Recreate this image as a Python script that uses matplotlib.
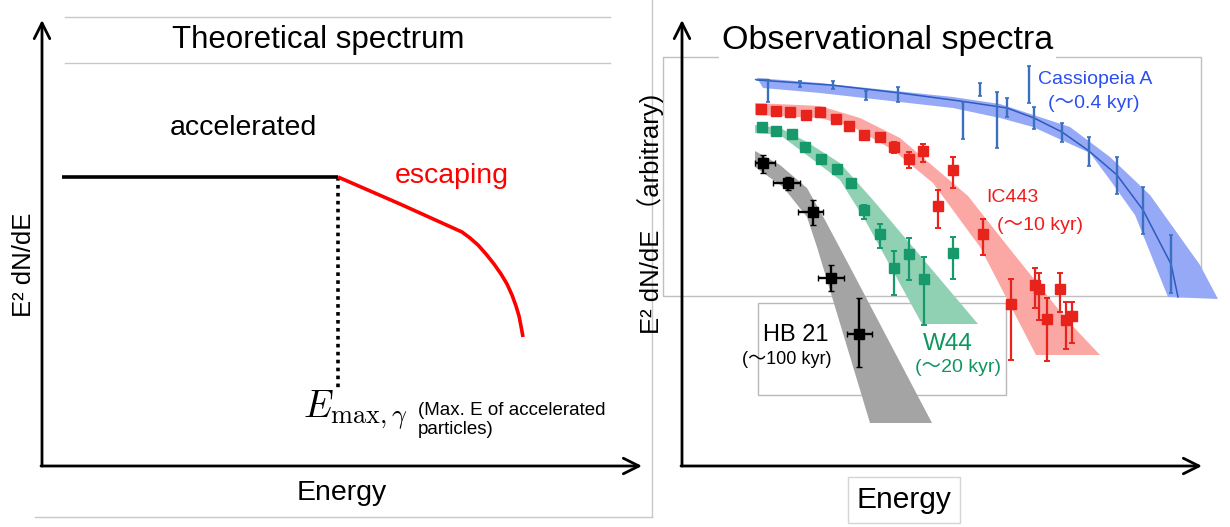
import numpy as np
import matplotlib
matplotlib.use('Agg')
import matplotlib.pyplot as plt
from matplotlib.patches import Polygon, Rectangle

plt.rcParams['font.family'] = ['Liberation Sans', 'Noto Sans CJK JP', 'DejaVu Sans']
plt.rcParams['mathtext.fontset'] = 'cm'

nan = np.nan

# ---- left panel: schematic spectrum (canvas units, y grows downward)
plateau_x = [62, 338]
plateau_y = [177, 177]
escape_x = [338, 400, 462, 470, 478, 486, 494, 501, 507, 512, 516, 519, 521, 523]
escape_y = [177, 204, 232, 238, 245, 254, 264, 274, 284, 295, 306, 316, 326, 337]
emax_x = 338
emax_y = [177, 390]

# ---- right panel: observed spectra
# Cassiopeia A
cas_x = [768, 800, 833, 866, 898, 963, 980, 997, 1007, 1029, 1034, 1062, 1089, 1117, 1143, 1171]
cas_lo = [80, 81, 81, 91, 87, 102, 83, 92, 98, 66, 107, 123, 137, 157, 187, 235]
cas_hi = [102, 87, 89, 100, 102, 139, 96, 148, 117, 103, 129, 142, 166, 194, 234, 293]
cas_line_x = [757, 830, 900, 960, 1007, 1034, 1062, 1089, 1117, 1143, 1171, 1178]
cas_line_y = [80, 85, 93, 101, 108, 118, 132, 151, 175, 210, 264, 297]
cas_up_x = [757, 820, 953, 1000, 1070, 1110, 1150, 1200, 1218]
cas_up_y = [78, 83, 97, 104, 127, 157, 195, 265, 299]
cas_dn_x = [763, 820, 953, 1000, 1033, 1090, 1110, 1135, 1168]
cas_dn_y = [88, 93, 108, 118, 127, 153, 180, 215, 297]

# IC443
ic_x = [761, 776, 790, 806, 820, 836, 849, 864, 880, 894, 909, 923, 938, 953, 983,
        1011, 1035, 1039, 1047, 1060, 1066, 1072]
ic_y = [109, 111, 112, 115, 112, 119, 126, 135, 137, 147, 159, 151, 206, 170, 234,
        304, 285, 289, 319, 289, 320, 316]
ic_lo = [nan] * 9 + [142, 152, 144, 190, 157, 219, 279, 268, 273, 298, 273, 302, 302]
ic_hi = [nan] * 9 + [153, 168, 162, 228, 188, 255, 360, 308, 320, 361, 312, 349, 343]
ic_up_x = [755, 820, 860, 900, 968, 1013, 1067, 1100]
ic_up_y = [103, 106, 118, 138, 196, 253, 320, 355]
ic_dn_x = [755, 820, 853, 893, 933, 980, 1036]
ic_dn_y = [115, 118, 127, 150, 183, 247, 355]

# W44
w44_x = [762, 776, 792, 805, 821, 837, 851, 864, 880, 894, 909, 924, 953]
w44_y = [127, 131, 134, 147, 159, 169, 183, 210, 234, 268, 254, 279, 253]
w44_lo = [nan] * 7 + [205, 224, 251, 238, 257, 237]
w44_hi = [nan] * 7 + [219, 248, 295, 280, 325, 279]
w44_up_x = [755, 780, 807, 840, 873, 890, 978]
w44_up_y = [125, 128, 142, 163, 200, 220, 324]
w44_dn_x = [755, 780, 800, 840, 865, 922]
w44_dn_y = [133, 135, 150, 180, 220, 324]

# HB 21
hb_x = [763, 788, 813, 831, 859]
hb_y = [163, 183, 212, 278, 334]
hb_xlo = [755, 773, 798, 818, 847]
hb_xhi = [775, 800, 823, 844, 872]
hb_ylo = [155, 177, 200, 265, 298]
hb_yhi = [173, 190, 225, 291, 367]
hb_up_x = [755, 780, 807, 825, 850, 932]
hb_up_y = [151, 165, 188, 220, 267, 423]
hb_dn_x = [755, 783, 807, 817, 870]
hb_dn_y = [167, 187, 217, 247, 423]


def band(ax, ux, uy, dx, dy, color):
    pts = list(zip(ux, uy)) + list(zip(dx[::-1], dy[::-1]))
    ax.add_patch(Polygon(pts, closed=True, facecolor=color, edgecolor='none', zorder=2))


def arrow(ax, start, end):
    ax.annotate('', xy=end, xytext=start,
                arrowprops=dict(arrowstyle='->', lw=2.0, color='black',
                                mutation_scale=28, shrinkA=0, shrinkB=0))


fig = plt.figure(figsize=(12.3, 5.27), dpi=100)
ax = fig.add_axes([0, 0, 1, 1])
ax.set_xlim(0, 1230)
ax.set_ylim(527, 0)
ax.axis('off')

frame = '#c8c8c8'

# ---------------- left panel
ax.plot([65, 610], [17, 17], color=frame, lw=1)
ax.plot([65, 610], [63, 63], color=frame, lw=1)
ax.plot([652, 652], [0, 517], color=frame, lw=1)
ax.plot([35, 652], [517, 517], color=frame, lw=1)
ax.text(318, 40, 'Theoretical spectrum', fontsize=22.5, ha='center', va='center')

arrow(ax, (42, 466), (42, 20))
arrow(ax, (41, 466), (642, 466))

ax.plot(plateau_x, plateau_y, color='black', lw=2.6, solid_capstyle='butt')
ax.plot([emax_x, emax_x], emax_y, color='black', lw=2.6, ls=(0, (1, 1.2)))
ax.plot(escape_x, escape_y, color='#ff0000', lw=2.6, solid_capstyle='butt')

ax.text(170, 128, 'accelerated', fontsize=20.5, va='center')
ax.text(395, 176, 'escaping', fontsize=20.5, va='center', color='#ff0000')
ax.text(303, 410, r'$E_{\max,\gamma}$', fontsize=27, va='center')
ax.text(418, 420, '(Max. E of accelerated\nparticles)', fontsize=13.5, va='center',
        linespacing=1.2)
ax.text(24, 265, 'E² dN/dE', fontsize=18.5, rotation=90, ha='center', va='center')
ax.text(342, 493, 'Energy', fontsize=20.5, ha='center', va='center')

# ---------------- right panel
ax.add_patch(Rectangle((663, 57), 538, 239, fill=False, edgecolor='#c0c0c0', lw=1, zorder=1))
ax.add_patch(Rectangle((758, 303), 248, 92, fill=False, edgecolor='#b8b8b8', lw=1, zorder=1))
ax.text(722, 41, 'Observational spectra', fontsize=24.5, va='center', zorder=5,
        bbox=dict(facecolor='white', edgecolor='none', pad=2))

arrow(ax, (682, 466), (682, 20))
arrow(ax, (681, 466), (1202, 466))

ax.text(651, 214, 'E² dN/dE （arbitrary)', fontsize=18.5, rotation=90,
        ha='center', va='center')
ax.text(904, 500, 'Energy', fontsize=21.5, ha='center', va='center',
        bbox=dict(facecolor='white', edgecolor='#d4d4d4', lw=1,
                  boxstyle='square,pad=0.3'))

band(ax, hb_up_x, hb_up_y, hb_dn_x, hb_dn_y, '#a4a4a4')
band(ax, w44_up_x, w44_up_y, w44_dn_x, w44_dn_y, '#91d1b3')
band(ax, ic_up_x, ic_up_y, ic_dn_x, ic_dn_y, '#fba7a3')
band(ax, cas_up_x, cas_up_y, cas_dn_x, cas_dn_y, '#96a9f6')

# Cassiopeia A
ax.plot(cas_line_x, cas_line_y, color='#2d5bc0', lw=1.1, zorder=3)
cas_x_a = np.array(cas_x)
cas_lo_a = np.array(cas_lo, float)
cas_hi_a = np.array(cas_hi, float)
ax.vlines(cas_x_a, cas_lo_a, cas_hi_a, color='#3b6fbf', lw=1.7, zorder=4)
ax.hlines(np.r_[cas_lo_a, cas_hi_a], np.r_[cas_x_a, cas_x_a] - 2, np.r_[cas_x_a, cas_x_a] + 2,
          color='#3b6fbf', lw=1.2, zorder=4)
ax.plot([755, 768], [79, 79], color='#3b6fbf', lw=1, zorder=4)


def points(ax, x, y, lo, hi, color):
    x = np.array(x)
    y = np.array(y)
    lo = np.array(lo, float)
    hi = np.array(hi, float)
    m = ~np.isnan(lo)
    ax.errorbar(x[m], y[m], yerr=[y[m] - lo[m], hi[m] - y[m]], fmt='none',
                ecolor=color, elinewidth=1.6, capsize=2.5, capthick=1.4, zorder=4)
    ax.plot(x, y, ls='none', marker='s', ms=6.8, color=color, zorder=5)


points(ax, ic_x, ic_y, ic_lo, ic_hi, '#e8231b')
points(ax, w44_x, w44_y, w44_lo, w44_hi, '#17996b')

hb_x_a = np.array(hb_x)
hb_y_a = np.array(hb_y)
ax.errorbar(hb_x_a, hb_y_a,
            xerr=[hb_x_a - np.array(hb_xlo), np.array(hb_xhi) - hb_x_a],
            yerr=[hb_y_a - np.array(hb_ylo), np.array(hb_yhi) - hb_y_a],
            fmt='s', ms=7.5, color='black', elinewidth=1.7, capsize=2, zorder=5)

# labels
ax.text(1038, 80, 'Cassiopeia A', fontsize=14, color='#2a4ff0', va='center')
ax.text(1094, 103, '(～0.4 kyr)', fontsize=14, color='#2a4ff0', ha='center', va='center')
ax.text(986, 198, 'IC443', fontsize=14, color='#f01c1c', va='center')
ax.text(1040, 225, '(～10 kyr)', fontsize=14, color='#f01c1c', ha='center', va='center')
ax.text(948, 344, 'W44', fontsize=17.5, color='#0f9660', ha='center', va='center')
ax.text(958, 367, '(～20 kyr)', fontsize=14, color='#0f9660', ha='center', va='center')
ax.text(796, 335, 'HB 21', fontsize=17, ha='center', va='center')
ax.text(787, 360, '(～100 kyr)', fontsize=13, ha='center', va='center')

fig.savefig('out.png', dpi=100)
